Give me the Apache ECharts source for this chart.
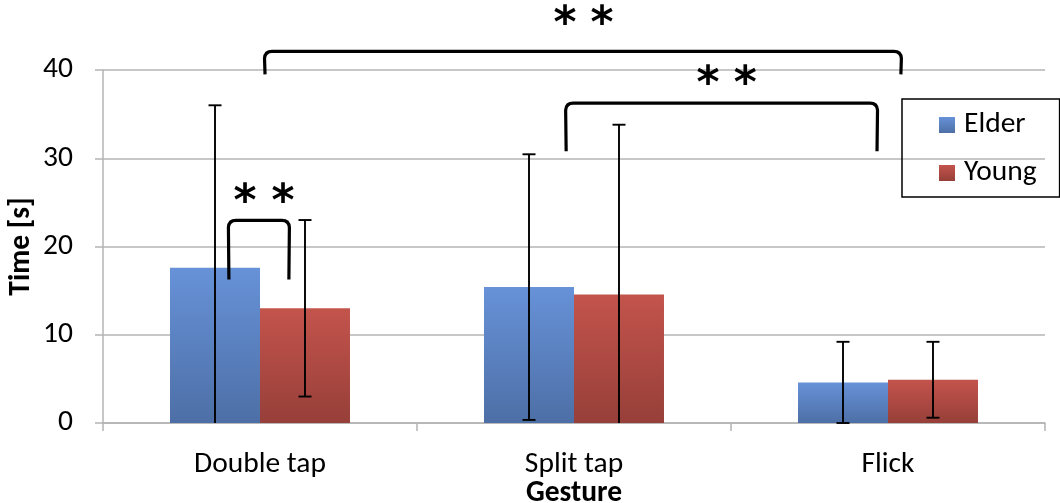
<!DOCTYPE html>
<html><head><meta charset="utf-8">
<script src="https://cdn.jsdelivr.net/npm/echarts@6/dist/echarts.min.js"></script>
<style>html,body{margin:0;padding:0;background:#fff}#c{width:1060px;height:503px}</style>
</head><body><div id="c"></div>
<script>
// ---- data ----
const categories = ['Double tap', 'Split tap', 'Flick'];
const seriesNames = ['Elder', 'Young'];
const elderMean = [17.6, 15.4, 4.6];
const youngMean = [13.0, 14.55, 4.9];
const elderSD = [18.4, 15.05, 4.6];
const youngSD = [10.0, 19.25, 4.3];
const yTicks = [0, 10, 20, 30, 40];
// significance brackets: category-index positions and values on the Time axis
const bracketLeft = [0.016, 0.975, -0.099];
const bracketRight = [2.041, 1.965, 0.092];
const bracketTop = [42.1, 36.25, 22.95];
const bracketLegLeft = [39.5, 30.8, 16.25];
const bracketLegRight = [39.5, 30.8, 16.25];
const starLabel = ['* *', '* *', '* *'];
const starLeft = [0.971, 1.427, -0.048];
const starRight = [1.089, 1.545, 0.073];
const starValue = [45.0, 38.2, 24.9];

// ---- style ----
const FONT = 'Carlito, Lato, sans-serif';
const FS = 29.5;
const BAR_FRAC = 0.2866;
const GRID_COLOR = '#b4b4b4';
function grad(top, bottom) {
  return new echarts.graphic.LinearGradient(0, 0, 0, 1, [{offset: 0, color: top}, {offset: 1, color: bottom}]);
}
const elderColor = grad('#6792d8', '#4d6fa6');
const youngColor = grad('#c3544c', '#973f39');

const chart = echarts.init(document.getElementById('c'), null, {renderer: 'canvas'});

function errorItem(side, sds) {
  return function (params, api) {
    const i = api.value(0);
    const mean = api.value(1);
    const sd = sds[i];
    const band = api.size([1, 0])[0];
    const cx = api.coord([i, 0])[0] + side * band * BAR_FRAC / 2;
    const hi = mean + sd, lo = mean - sd;
    const yHi = api.coord([i, hi])[1];
    const yLo = api.coord([i, Math.max(lo, 0)])[1];
    const cap = 6.5;
    const st = {stroke: '#000', lineWidth: 1.9};
    const ch = [
      {type: 'line', shape: {x1: cx, y1: yHi, x2: cx, y2: yLo}, style: st},
      {type: 'line', shape: {x1: cx - cap, y1: yHi, x2: cx + cap, y2: yHi}, style: st}
    ];
    if (lo >= 0) ch.push({type: 'line', shape: {x1: cx - cap, y1: yLo, x2: cx + cap, y2: yLo}, style: st});
    return {type: 'group', children: ch};
  };
}

function bracketItem(params, api) {
  const k = params.dataIndex;
  const band = api.size([1, 0])[0];
  const x0 = api.coord([0, 0])[0];
  const x1 = x0 + bracketLeft[k] * band;
  const x2 = x0 + bracketRight[k] * band;
  const yT = api.coord([0, bracketTop[k]])[1];
  const yL1 = api.coord([0, bracketLegLeft[k]])[1];
  const yL2 = api.coord([0, bracketLegRight[k]])[1];
  const r = 7;
  const path = 'M' + x1 + ',' + yL1 + ' L' + (x1 - 0.5) + ',' + (yT + r) +
    ' Q' + x1 + ',' + yT + ' ' + (x1 + r) + ',' + yT +
    ' L' + (x2 - r) + ',' + yT + ' Q' + x2 + ',' + yT + ' ' + (x2 + 0.5) + ',' + (yT + r) +
    ' L' + x2 + ',' + yL2;
  const ys = api.coord([0, starValue[k]])[1];
  const stars = starLabel[k].split(' ');
  const sx = [x0 + starLeft[k] * band, x0 + starRight[k] * band];
  const ch = [{type: 'path', shape: {pathData: path}, style: {stroke: '#000', lineWidth: 3.2, fill: null}}];
  stars.forEach(function (s, j) {
    ch.push({type: 'text', x: sx[j], y: ys, style: {text: s, font: 'bold 44px "DejaVu Sans"', fill: '#000', align: 'center', verticalAlign: 'middle'}});
  });
  return {type: 'group', children: ch};
}

chart.setOption({
  animation: false,
  grid: {left: 103, right: 15, top: 70, bottom: 80, outerBoundsMode: 'none', containLabel: false},
  legend: {
    data: seriesNames,
    orient: 'vertical',
    left: 902, top: 99,
    itemWidth: 16, itemHeight: 16, itemGap: 18,
    icon: 'rect',
    padding: [11, 23, 9, 37],
    borderColor: '#000', borderWidth: 1.5,
    textStyle: {fontFamily: FONT, fontSize: FS, color: '#000', lineHeight: 30, padding: [0, 0, 0, 4]}
  },
  xAxis: {
    type: 'category', data: categories,
    name: 'Gesture', nameLocation: 'middle', nameGap: 56, nameMoveOverlap: false,
    nameTextStyle: {fontFamily: FONT, fontSize: FS, fontWeight: 'bold', color: '#000'},
    axisLine: {lineStyle: {color: GRID_COLOR, width: 1.5}},
    axisTick: {show: true, length: 8, lineStyle: {color: GRID_COLOR, width: 1.5}},
    axisLabel: {fontFamily: FONT, fontSize: FS, color: '#000', margin: 27}
  },
  yAxis: {
    type: 'value', min: yTicks[0], max: yTicks[yTicks.length - 1], interval: yTicks[1] - yTicks[0],
    name: 'Time [s]', nameLocation: 'middle', nameGap: 66, nameRotate: 90, nameMoveOverlap: false,
    nameTextStyle: {fontFamily: FONT, fontSize: FS, fontWeight: 'bold', color: '#000'},
    axisLine: {show: true, lineStyle: {color: GRID_COLOR, width: 1.5}},
    axisTick: {show: true, length: 8, lineStyle: {color: GRID_COLOR, width: 1.5}},
    axisLabel: {fontFamily: FONT, fontSize: FS, color: '#000', margin: 30},
    splitLine: {lineStyle: {color: GRID_COLOR, width: 1.5}}
  },
  series: [
    {name: seriesNames[0], type: 'bar', data: elderMean, barWidth: (BAR_FRAC * 100) + '%', barGap: '0%',
     itemStyle: {color: elderColor}},
    {name: seriesNames[1], type: 'bar', data: youngMean, barWidth: (BAR_FRAC * 100) + '%', barGap: '0%',
     itemStyle: {color: youngColor}},
    {type: 'custom', renderItem: errorItem(-1, elderSD), data: elderMean.map((v, i) => [i, v]), z: 5, silent: true},
    {type: 'custom', renderItem: errorItem(1, youngSD), data: youngMean.map((v, i) => [i, v]), z: 5, silent: true},
    {type: 'custom', renderItem: bracketItem, data: bracketTop.map((v) => [0, v]), z: 6, clip: false, silent: true}
  ]
});
</script></body></html>
